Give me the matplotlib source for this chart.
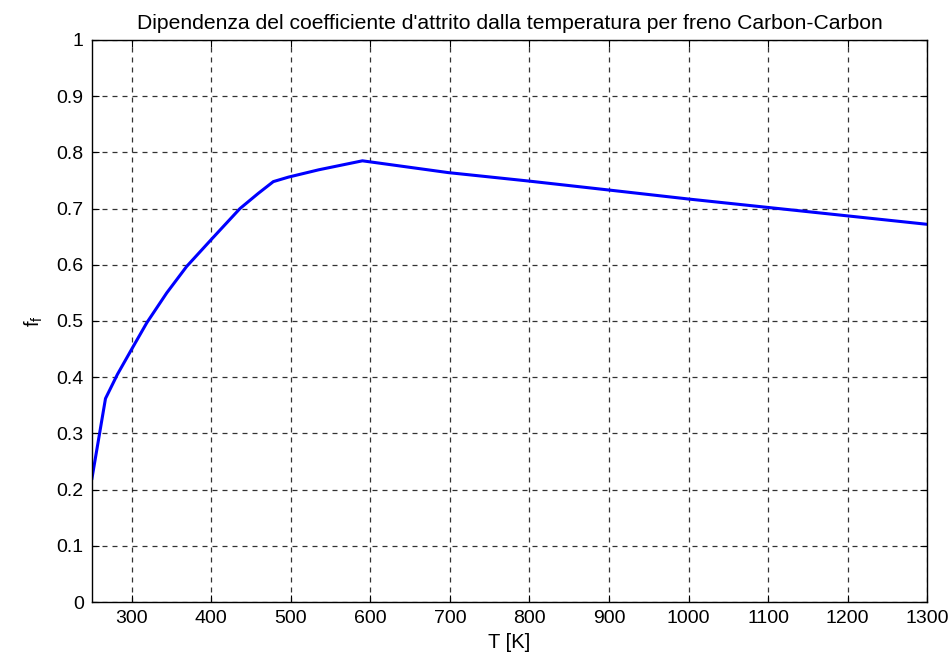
import numpy as np
import matplotlib
matplotlib.use('Agg')
import matplotlib.pyplot as plt

# temperature [K] and friction coefficient
T = [250, 267, 282, 300, 319, 344, 369, 400, 436, 459, 478, 497, 535, 590,
     698, 799, 900, 1000, 1100, 1200, 1300]
ff = [0.220, 0.362, 0.405, 0.450, 0.497, 0.550, 0.597, 0.645, 0.700, 0.727,
      0.748, 0.756, 0.769, 0.785, 0.764, 0.749, 0.733, 0.717, 0.702, 0.687, 0.672]

xticks = [300, 400, 500, 600, 700, 800, 900, 1000, 1100, 1200, 1300]
yticks = [0, 0.1, 0.2, 0.3, 0.4, 0.5, 0.6, 0.7, 0.8, 0.9, 1]

plt.rcParams['font.family'] = ['Liberation Sans', 'DejaVu Sans']

fig = plt.figure(figsize=(9.52, 6.63), dpi=100)
ax = fig.add_axes([0.0966, 0.092, 0.8774, 0.8477])

ax.plot(T, ff, color='blue', linewidth=2.2)

ax.set_xlim(250, 1300)
ax.set_ylim(0, 1)
ax.set_xticks(xticks)
ax.set_yticks(yticks)
ax.set_yticklabels(['0', '0.1', '0.2', '0.3', '0.4', '0.5', '0.6', '0.7', '0.8', '0.9', '1'])
ax.tick_params(direction='in', top=True, right=True, labelsize=14, length=5, width=0.8,
               pad=6)
ax.grid(True, color='black', linestyle=(0, (4, 4)), linewidth=0.9, alpha=0.8)
for s in ax.spines.values():
    s.set_linewidth(1.0)

ax.set_xlabel('T [K]', fontsize=14.5, labelpad=4)
ax.set_ylabel('$\\mathregular{f_f}$', fontsize=14.5, labelpad=8)
ax.set_title("Dipendenza del coefficiente d'attrito dalla temperatura per freno Carbon-Carbon",
             fontsize=15.2, pad=8)

fig.savefig('out.png', dpi=100)
